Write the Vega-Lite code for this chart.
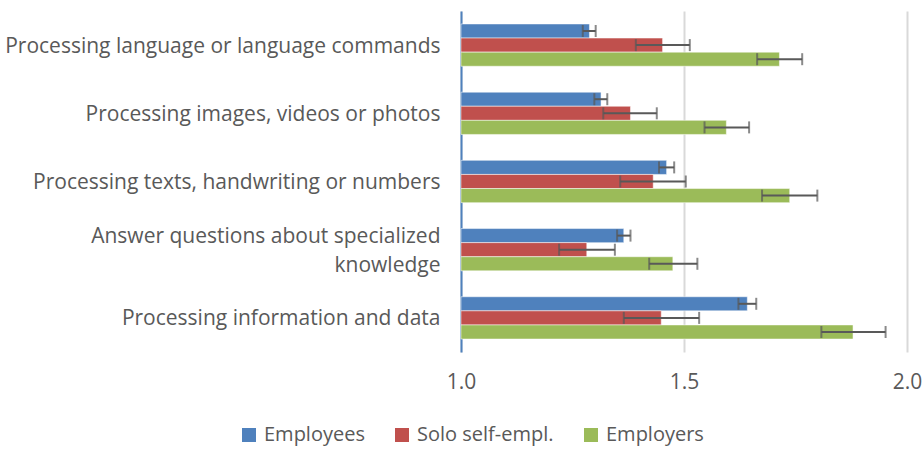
{
  "$schema": "https://vega.github.io/schema/vega-lite/v6.json",
  "width": 446,
  "height": 341,
  "autosize": {"type": "none"},
  "padding": {"left": 461, "top": 11, "right": 15, "bottom": 97},
  "background": "white",
  "config": {
    "view": {"stroke": null},
    "font": "Open Sans"
  },
  "data": {
    "values": [
      {"cat": "Processing language or language commands", "grp": "Employees", "v": 1.288, "lo": 1.273, "hi": 1.302},
      {"cat": "Processing language or language commands", "grp": "Solo self-empl.", "v": 1.452, "lo": 1.392, "hi": 1.513},
      {"cat": "Processing language or language commands", "grp": "Employers", "v": 1.714, "lo": 1.664, "hi": 1.765},
      {"cat": "Processing images, videos or photos", "grp": "Employees", "v": 1.314, "lo": 1.299, "hi": 1.328},
      {"cat": "Processing images, videos or photos", "grp": "Solo self-empl.", "v": 1.38, "lo": 1.319, "hi": 1.439},
      {"cat": "Processing images, videos or photos", "grp": "Employers", "v": 1.595, "lo": 1.546, "hi": 1.646},
      {"cat": "Processing texts, handwriting or numbers", "grp": "Employees", "v": 1.461, "lo": 1.444, "hi": 1.478},
      {"cat": "Processing texts, handwriting or numbers", "grp": "Solo self-empl.", "v": 1.431, "lo": 1.357, "hi": 1.504},
      {"cat": "Processing texts, handwriting or numbers", "grp": "Employers", "v": 1.737, "lo": 1.675, "hi": 1.799},
      {"cat": "Answer questions about specialized knowledge", "grp": "Employees", "v": 1.365, "lo": 1.35, "hi": 1.38},
      {"cat": "Answer questions about specialized knowledge", "grp": "Solo self-empl.", "v": 1.282, "lo": 1.22, "hi": 1.345},
      {"cat": "Answer questions about specialized knowledge", "grp": "Employers", "v": 1.475, "lo": 1.422, "hi": 1.53},
      {"cat": "Processing information and data", "grp": "Employees", "v": 1.642, "lo": 1.622, "hi": 1.662},
      {"cat": "Processing information and data", "grp": "Solo self-empl.", "v": 1.449, "lo": 1.365, "hi": 1.534},
      {"cat": "Processing information and data", "grp": "Employers", "v": 1.879, "lo": 1.808, "hi": 1.952}
    ]
  },
  "encoding": {
    "y": {
      "field": "cat",
      "type": "nominal",
      "sort": [
        "Processing language or language commands",
        "Processing images, videos or photos",
        "Processing texts, handwriting or numbers",
        "Answer questions about specialized knowledge",
        "Processing information and data"
      ],
      "scale": {"paddingInner": 0.38, "paddingOuter": 0.19},
      "axis": {
        "title": null,
        "domainColor": "#4F81BD",
        "domainWidth": 2,
        "ticks": false,
        "labelFont": "Open Sans",
        "labelFontSize": 21,
        "labelColor": "#595959",
        "labelPadding": 21,
        "labelLimit": 600,
        "labelLineHeight": 29,
        "labelOffset": {"condition": {"test": "datum.value == 'Answer questions about specialized knowledge'", "value": -13}, "value": 1.5},
        "labelExpr": "datum.value == 'Answer questions about specialized knowledge' ? ['Answer questions about specialized', 'knowledge'] : datum.value"
      }
    },
    "yOffset": {
      "field": "grp",
      "type": "nominal",
      "sort": ["Employees", "Solo self-empl.", "Employers"],
      "scale": {"paddingInner": 0, "paddingOuter": 0}
    }
  },
  "layer": [
    {
      "mark": {"type": "bar", "stroke": "#ffffff", "strokeOpacity": 0.5, "strokeWidth": 1},
      "encoding": {
        "x": {
          "field": "v",
          "type": "quantitative",
          "scale": {"domain": [1, 2], "zero": false, "nice": false},
          "axis": {
            "title": null,
            "values": [1, 1.5, 2],
            "format": ".1f",
            "domain": false,
            "ticks": false,
            "grid": true,
            "gridColor": "#D9D9D9",
            "gridWidth": 2,
            "labelFlush": false,
            "labelFont": "Open Sans",
            "labelFontSize": 21,
            "labelColor": "#595959",
            "labelPadding": 19
          }
        },
        "x2": {"datum": 1},
        "color": {
          "field": "grp",
          "type": "nominal",
          "sort": ["Employees", "Solo self-empl.", "Employers"],
          "scale": {"domain": ["Employees", "Solo self-empl.", "Employers"], "range": ["#4F81BD", "#C0504D", "#9BBB59"]},
          "legend": {
            "title": null,
            "orient": "none",
            "direction": "horizontal",
            "legendX": -222,
            "legendY": 414,
            "symbolType": "square",
            "symbolSize": 196,
            "symbolStrokeWidth": 0,
            "labelFont": "Open Sans",
            "labelFontSize": 20,
            "labelColor": "#595959",
            "labelOffset": 5,
            "columnPadding": 27
          }
        }
      }
    },
    {
      "mark": {"type": "rule", "color": "#595959", "strokeWidth": 2},
      "encoding": {
        "x": {"field": "lo", "type": "quantitative"},
        "x2": {"field": "hi"}
      }
    },
    {
      "mark": {"type": "tick", "color": "#595959", "thickness": 2, "size": 12, "orient": "vertical"},
      "encoding": {
        "x": {"field": "lo", "type": "quantitative"}
      }
    },
    {
      "mark": {"type": "tick", "color": "#595959", "thickness": 2, "size": 12, "orient": "vertical"},
      "encoding": {
        "x": {"field": "hi", "type": "quantitative"}
      }
    }
  ]
}
